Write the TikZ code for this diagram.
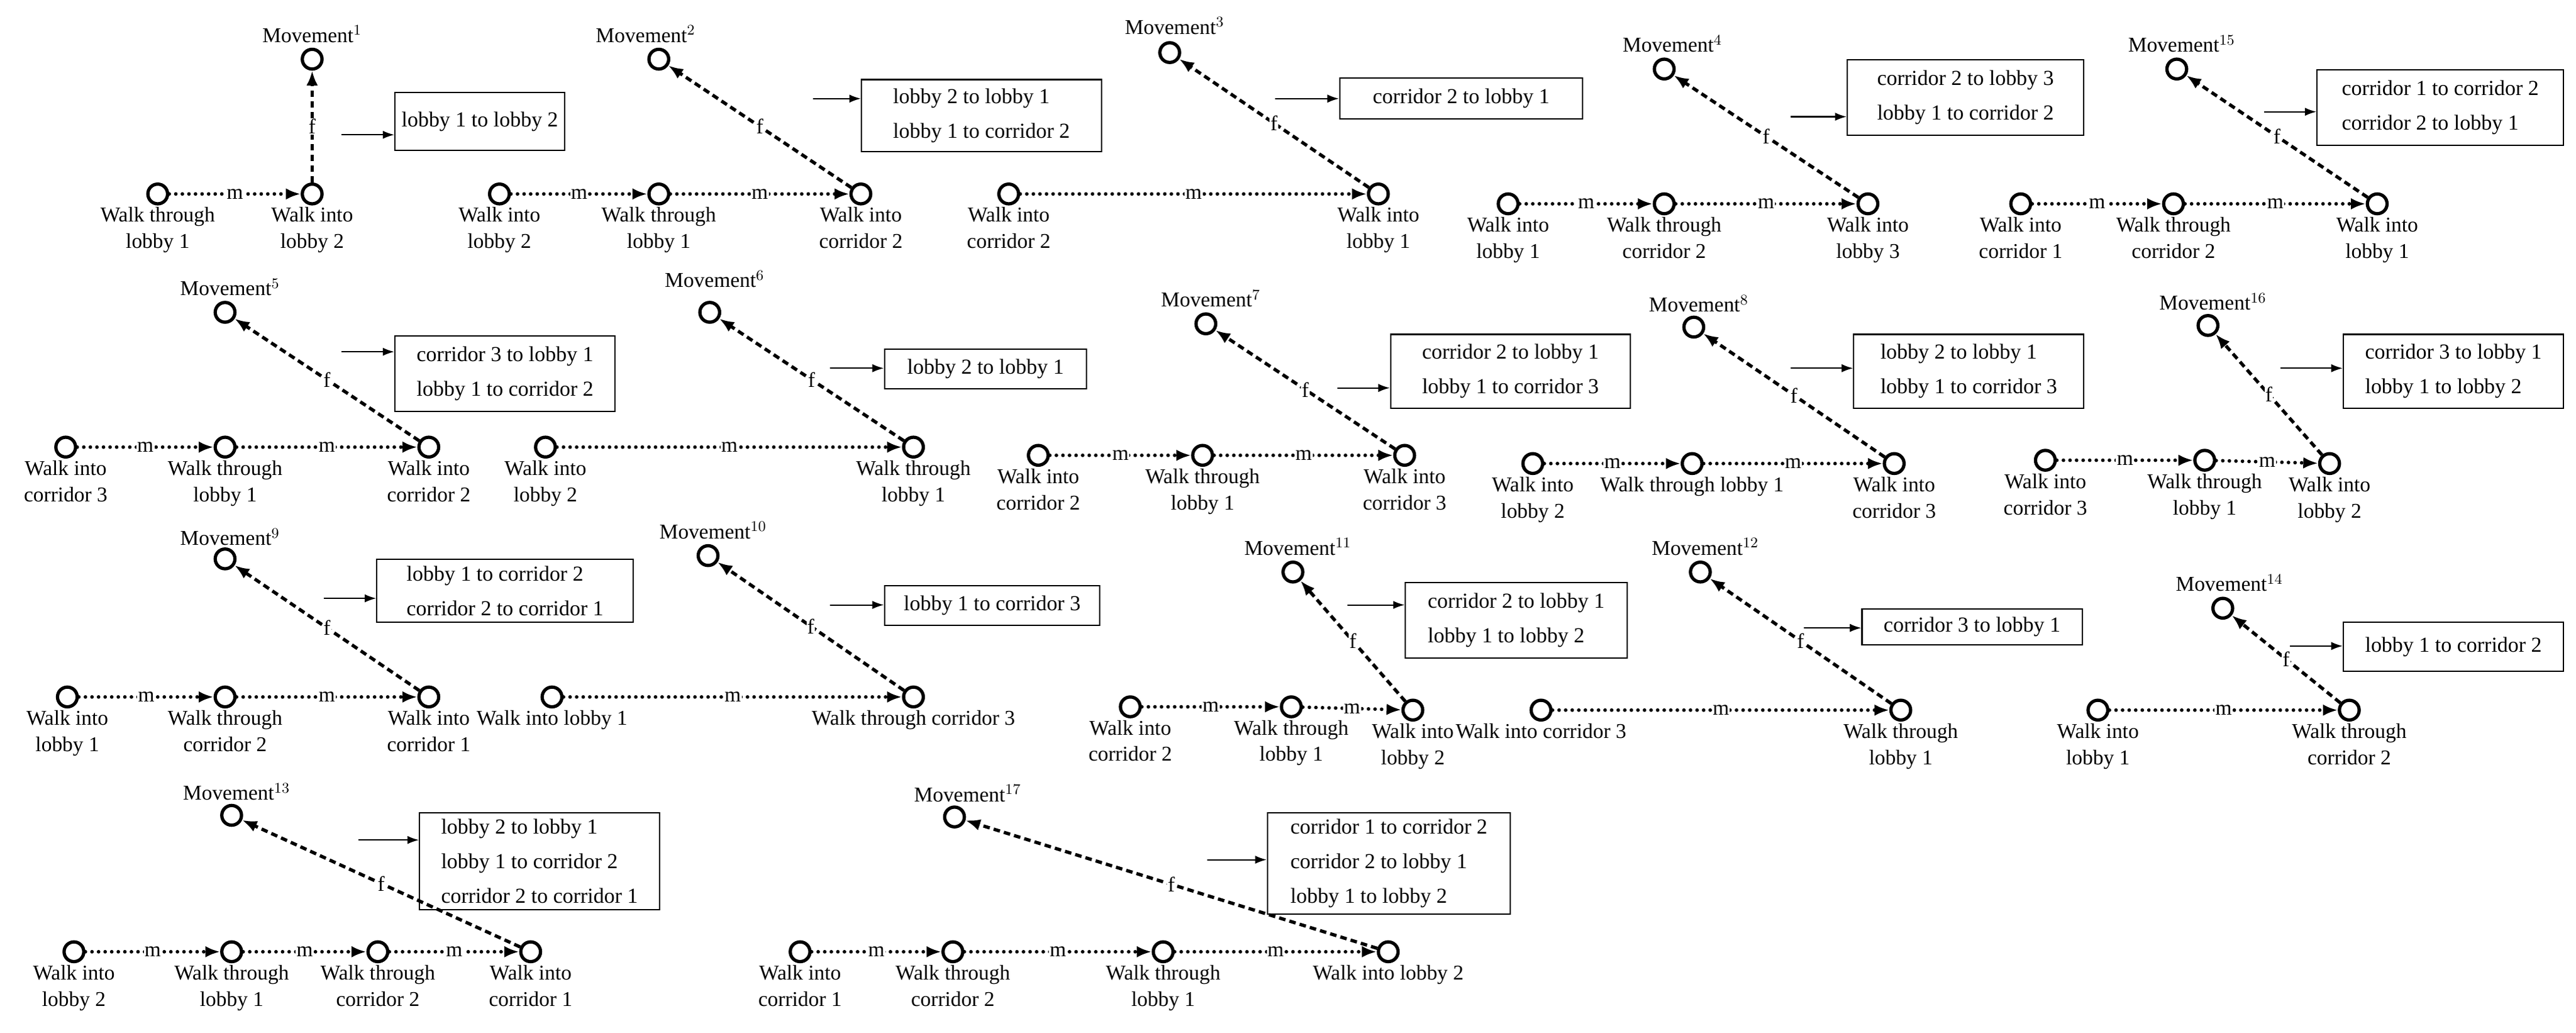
\documentclass[tikz,border=0pt]{standalone}
\usepackage{fontspec}
\setmainfont{Liberation Serif}
\usetikzlibrary{arrows.meta}
\begin{document}
\begin{tikzpicture}[x=1pt,y=-1pt,
 st/.style={circle,draw,line width=2pt,minimum size=12pt,inner sep=0pt},
 lab/.style={align=center,font=\fontsize{12.8}{16}\selectfont,inner sep=1pt},
 mv/.style={font=\fontsize{12.8}{16}\selectfont,inner sep=1pt,anchor=south},
 ml/.style={line width=2.2pt,line cap=round,dash pattern=on 0pt off 4pt,-{Latex[length=9pt,width=7pt]}},
 fl/.style={line width=2pt,dash pattern=on 4pt off 2.5pt,-{Latex[length=9pt,width=7pt]}},
 tl/.style={midway,fill=white,inner sep=0.5pt,font=\fontsize{12.8}{16}\selectfont},
 bx/.style={draw,line width=0.8pt,align=left,anchor=north west,inner sep=4pt,font=\fontsize{13}{21}\selectfont},
 ar/.style={line width=0.8pt,-{Latex[length=7pt,width=5pt]}}]
\useasboundingbox (0,0) rectangle (1568,628.4);
\newcommand{\nd}[4]{\node[st,label={[lab]below:{#4}}] (#1) at (#2,#3) {};}
\newcommand{\mov}[6]{\node[st] (#1) at (#2,#3) {}; \node[mv] at (#4,#5) {Movement$^{#6}$};}
\newcommand{\bxx}[6]{\path (#2,#3) node[bx,minimum width=#4pt,minimum height=#5pt] (#1) {#6};}
\newcommand{\arr}[4]{\coordinate (#1s) at (#2,#3); \draw[ar] (#1s) -- (#1s -| #4.west);}
% M1
\nd{a1}{96}{118}{Walk through\\lobby 1}\nd{a2}{190}{118}{Walk into\\lobby 2}
\mov{am}{190}{36}{190}{27}{1}
\draw[ml] (a1) -- node[tl]{m} (a2); \draw[fl] (a2) -- node[tl]{f} (am);
\bxx{ab}{240}{56}{96}{35}{lobby 1 to lobby 2}\arr{aa}{208}{82}{ab}
% M2
\nd{b1}{304}{118}{Walk into\\lobby 2}\nd{b2}{401}{118}{Walk through\\lobby 1}\nd{b3}{524}{118}{Walk into\\corridor 2}
\mov{bm}{401}{36}{393}{27}{2}
\draw[ml] (b1) -- node[tl]{m} (b2); \draw[ml] (b2) -- node[tl]{m} (b3); \draw[fl] (b3) -- node[tl]{f} (bm);
\bxx{bb}{524}{48}{146}{44}{lobby 2 to lobby 1\\lobby 1 to corridor 2}\arr{ba}{495}{60}{bb}
% M3
\nd{c1}{614}{118}{Walk into\\corridor 2}\nd{c2}{839}{118}{Walk into\\lobby 1}
\mov{cm}{712}{32}{715}{22}{3}
\draw[ml] (c1) -- node[tl]{m} (c2); \draw[fl] (c2) -- node[tl]{f} (cm);
\bxx{cb}{815}{47}{148}{25}{corridor 2 to lobby 1}\arr{ca}{776}{60}{cb}
% M4
\nd{d1}{918}{124}{Walk into\\lobby 1}\nd{d2}{1013}{124}{Walk through\\corridor 2}\nd{d3}{1137}{124}{Walk into\\lobby 3}
\mov{dm}{1013}{42}{1018}{33}{4}
\draw[ml] (d1) -- node[tl]{m} (d2); \draw[ml] (d2) -- node[tl]{m} (d3); \draw[fl] (d3) -- node[tl]{f} (dm);
\bxx{db}{1124}{36}{144}{46}{corridor 2 to lobby 3\\lobby 1 to corridor 2}\arr{da}{1090}{71}{db}
% M15
\nd{e1}{1230}{124}{Walk into\\corridor 1}\nd{e2}{1323}{124}{Walk through\\corridor 2}\nd{e3}{1447}{124}{Walk into\\lobby 1}
\mov{em}{1325}{42}{1328}{33}{15}
\draw[ml] (e1) -- node[tl]{m} (e2); \draw[ml] (e2) -- node[tl]{m} (e3); \draw[fl] (e3) -- node[tl]{f} (em);
\bxx{eb}{1410}{42}{150}{46}{corridor 1 to corridor 2\\corridor 2 to lobby 1}\arr{ea}{1378}{68}{eb}
% M5
\nd{f1}{40}{272}{Walk into\\corridor 3}\nd{f2}{137}{272}{Walk through\\lobby 1}\nd{f3}{261}{272}{Walk into\\corridor 2}
\mov{fm}{137}{190}{140}{181}{5}
\draw[ml] (f1) -- node[tl]{m} (f2); \draw[ml] (f2) -- node[tl]{m} (f3); \draw[fl] (f3) -- node[tl]{f} (fm);
\bxx{fb}{240}{204}{134}{46}{corridor 3 to lobby 1\\lobby 1 to corridor 2}\arr{fa}{208}{214}{fb}
% M6
\nd{g1}{332}{272}{Walk into\\lobby 2}\nd{g2}{556}{272}{Walk through\\lobby 1}
\mov{gm}{432}{190}{435}{176}{6}
\draw[ml] (g1) -- node[tl]{m} (g2); \draw[fl] (g2) -- node[tl]{f} (gm);
\bxx{gb}{538}{212}{123}{24}{lobby 2 to lobby 1}\arr{ga}{505}{224}{gb}
% M7
\nd{h1}{632}{277}{Walk into\\corridor 2}\nd{h2}{732}{277}{Walk through\\lobby 1}\nd{h3}{855}{277}{Walk into\\corridor 3}
\mov{hm}{734}{197}{737}{188}{7}
\draw[ml] (h1) -- node[tl]{m} (h2); \draw[ml] (h2) -- node[tl]{m} (h3); \draw[fl] (h3) -- node[tl]{f} (hm);
\bxx{hb}{846}{203}{146}{45}{corridor 2 to lobby 1\\lobby 1 to corridor 3}\arr{ha}{814}{236}{hb}
% M8
\nd{i1}{933}{282}{Walk into\\lobby 2}\nd{i2}{1030}{282}{Walk through lobby 1}\nd{i3}{1153}{282}{Walk into\\corridor 3}
\mov{im}{1031}{199}{1034}{191}{8}
\draw[ml] (i1) -- node[tl]{m} (i2); \draw[ml] (i2) -- node[tl]{m} (i3); \draw[fl] (i3) -- node[tl]{f} (im);
\bxx{ib}{1128}{203}{140}{45}{lobby 2 to lobby 1\\lobby 1 to corridor 3}\arr{ia}{1090}{224}{ib}
% M16
\nd{j1}{1245}{280}{Walk into\\corridor 3}\nd{j2}{1342}{280}{Walk through\\lobby 1}\nd{j3}{1418}{282}{Walk into\\lobby 2}
\mov{jm}{1344}{198}{1347}{190}{16}
\draw[ml] (j1) -- node[tl]{m} (j2); \draw[ml] (j2) -- node[tl]{m} (j3); \draw[fl] (j3) -- node[tl]{f} (jm);
\bxx{jb}{1426}{203}{134}{45}{corridor 3 to lobby 1\\lobby 1 to lobby 2}\arr{ja}{1388}{224}{jb}
% M9
\nd{k1}{41}{424}{Walk into\\lobby 1}\nd{k2}{137}{424}{Walk through\\corridor 2}\nd{k3}{261}{424}{Walk into\\corridor 1}
\mov{km}{137}{340}{140}{333}{9}
\draw[ml] (k1) -- node[tl]{m} (k2); \draw[ml] (k2) -- node[tl]{m} (k3); \draw[fl] (k3) -- node[tl]{f} (km);
\bxx{kb}{229}{340}{156}{38}{lobby 1 to corridor 2\\corridor 2 to corridor 1}\arr{ka}{197}{364}{kb}
% M10
\nd{l1}{336}{424}{Walk into lobby 1}\nd{l2}{556}{424}{Walk through corridor 3}
\mov{lm}{431}{338}{434}{329}{10}
\draw[ml] (l1) -- node[tl]{m} (l2); \draw[fl] (l2) -- node[tl]{f} (lm);
\bxx{lb}{538}{356}{131}{24}{lobby 1 to corridor 3}\arr{la}{505}{368}{lb}
% M11
\nd{m1}{688}{430}{Walk into\\corridor 2}\nd{m2}{786}{430}{Walk through\\lobby 1}\nd{m3}{860}{432}{Walk into\\lobby 2}
\mov{mm}{787}{348}{790}{339}{11}
\draw[ml] (m1) -- node[tl]{m} (m2); \draw[ml] (m2) -- node[tl]{m} (m3); \draw[fl] (m3) -- node[tl]{f} (mm);
\bxx{mb}{855}{354}{135}{46}{corridor 2 to lobby 1\\lobby 1 to lobby 2}\arr{ma}{820}{368}{mb}
% M12
\nd{n1}{938}{432}{Walk into corridor 3}\nd{n2}{1157}{432}{Walk through\\lobby 1}
\mov{nm}{1035}{348}{1038}{339}{12}
\draw[ml] (n1) -- node[tl]{m} (n2); \draw[fl] (n2) -- node[tl]{f} (nm);
\bxx{nb}{1133}{370}{134}{22}{corridor 3 to lobby 1}\arr{na}{1098}{382}{nb}
% M14
\nd{o1}{1277}{432}{Walk into\\lobby 1}\nd{o2}{1430}{432}{Walk through\\corridor 2}
\mov{om}{1353}{370}{1357}{361}{14}
\draw[ml] (o1) -- node[tl]{m} (o2); \draw[fl] (o2) -- node[tl]{f} (om);
\bxx{ob}{1426}{378}{134}{30}{lobby 1 to corridor 2}\arr{oa}{1394}{393}{ob}
% M13
\nd{p1}{45}{579}{Walk into\\lobby 2}\nd{p2}{141}{579}{Walk through\\lobby 1}\nd{p3}{230}{579}{Walk through\\corridor 2}\nd{p4}{323}{579}{Walk into\\corridor 1}
\mov{pm}{141}{496}{144}{488}{13}
\draw[ml] (p1) -- node[tl]{m} (p2); \draw[ml] (p2) -- node[tl]{m} (p3); \draw[ml] (p3) -- node[tl]{m} (p4); \draw[fl] (p4) -- node[tl]{f} (pm);
\bxx{pb}{255}{494}{146}{55}{lobby 2 to lobby 1\\lobby 1 to corridor 2\\corridor 2 to corridor 1}\arr{pa}{218}{511}{pb}
% M17
\nd{q1}{487}{579}{Walk into\\corridor 1}\nd{q2}{580}{579}{Walk through\\corridor 2}\nd{q3}{708}{579}{Walk through\\lobby 1}\nd{q4}{845}{579}{Walk into lobby 2}
\mov{qm}{581}{497}{589}{489}{17}
\draw[ml] (q1) -- node[tl]{m} (q2); \draw[ml] (q2) -- node[tl]{m} (q3); \draw[ml] (q3) -- node[tl]{m} (q4); \draw[fl] (q4) -- node[tl]{f} (qm);
\bxx{qb}{771}{494}{148}{55}{corridor 1 to corridor 2\\corridor 2 to lobby 1\\lobby 1 to lobby 2}\arr{qa}{735}{523}{qb}
\end{tikzpicture}
\end{document}
